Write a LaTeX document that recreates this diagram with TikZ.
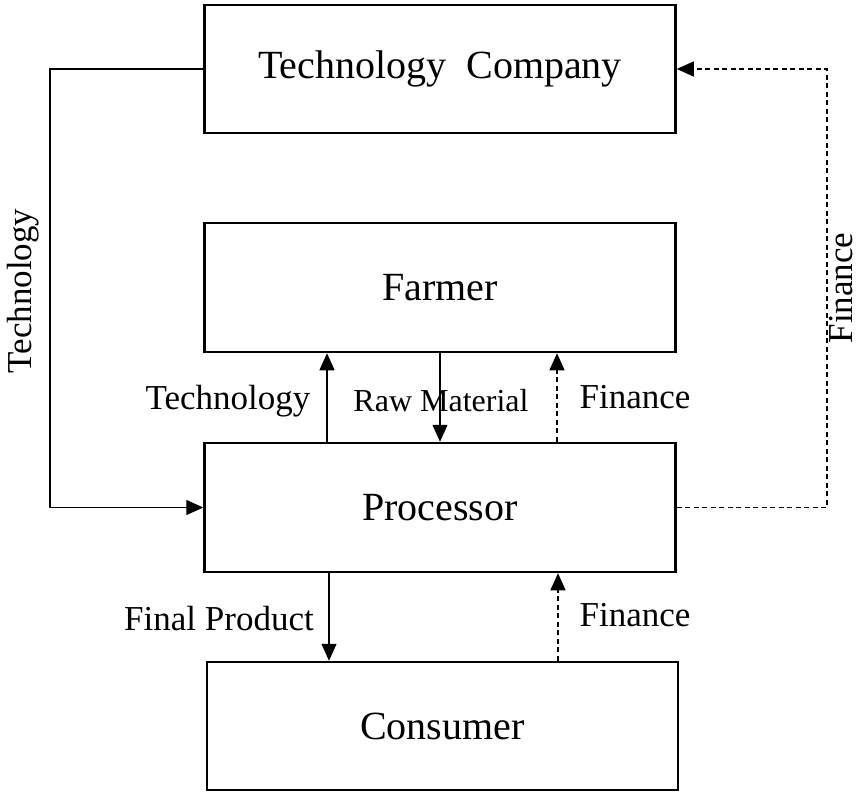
\documentclass[tikz,border=0pt]{standalone}
\usepackage{fontspec}
\setmainfont{Liberation Serif}
\usetikzlibrary{arrows.meta}
\tikzset{
    flowbox/.style={shape=rectangle,draw,line width=2.5pt,inner sep=0pt,minimum width=471pt,minimum height=128pt,font=\fontsize{40}{48}\selectfont},
    flowlabel/.style={inner sep=0pt,font=\fontsize{35}{42}\selectfont},
    flowarrow/.style={line width=1.3pt,-{Triangle[length=17pt,width=15pt]}},
    finarrow/.style={flowarrow,dash pattern=on 5pt off 3.5pt}
}
\begin{document}
\begin{tikzpicture}[x=1pt,y=-1pt]
    \useasboundingbox (0,0) rectangle (859,792);
    \node[flowbox] (tc) at (440,69) {Technology~~Company};
    \node[flowbox,minimum height=129pt] (farmer) at (440,287.5) {Farmer};
    \node[flowbox,minimum height=129pt] (processor) at (440,507.5) {Processor};
    \node[flowbox] (consumer) at (442.5,726) {Consumer};
    \coordinate (techturn) at (50,0);
    \coordinate (finturn) at (827,0);
    \draw[flowarrow] (tc.west) -- (tc.west -| techturn) -- (processor.west -| techturn) -- (processor.west);
    \draw[finarrow] (processor.east) -- (processor.east -| finturn) -- (tc.east -| finturn) -- (tc.east);
    \draw[flowarrow] ([xshift=-113pt]processor.north) -- ([xshift=-113pt]farmer.south);
    \draw[flowarrow] (farmer.south) -- (processor.north);
    \draw[finarrow] ([xshift=117pt]processor.north) -- ([xshift=117pt]farmer.south);
    \draw[flowarrow] ([xshift=-111pt]processor.south) -- ([xshift=-111pt]processor.south |- consumer.north);
    \draw[finarrow] ([xshift=118pt]processor.south |- consumer.north) -- ([xshift=118pt]processor.south);
    \node[flowlabel,rotate=90] (techlbl) at (23,291) {Technology};
    \node[flowlabel,rotate=90] (finlbl) at (841,288) {Finance};
    \node[flowlabel] (techup) at (228,401) {Technology};
    \node[flowlabel,font=\fontsize{32}{38}\selectfont] (rawmat) at (441,401) {Raw Material};
    \node[flowlabel] (finup) at (635,397) {Finance};
    \node[flowlabel] (finalprod) at (219,619) {Final Product};
    \node[flowlabel] (finlow) at (635,615) {Finance};
\end{tikzpicture}
\end{document}
